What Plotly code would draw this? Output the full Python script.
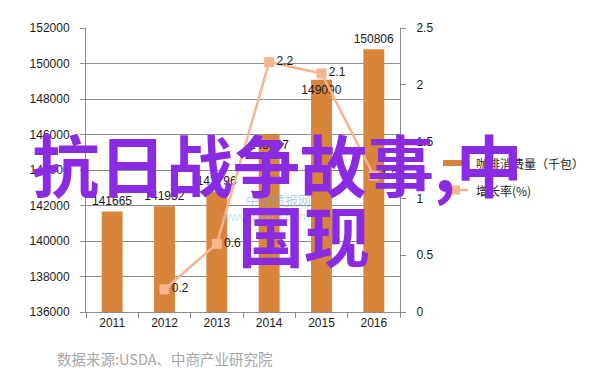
import plotly.graph_objects as go

years = ["2011", "2012", "2013", "2014", "2015", "2016"]
consumption = [141665, 141952, 142796, 145997, 149090, 150806]
growth_years = ["2012", "2013", "2014", "2015", "2016"]
growth = [0.2, 0.6, 2.2, 2.1, 1.2]

name_consumption = "咖啡消费量（千包）"
name_growth = "增长率(%)"
source_text = "数据来源:USDA、中商产业研究院"
overlay_line1 = "抗日战争故事,中"
overlay_line2 = "国现"

W, H = 602, 384
OFF = 8  # default page body margin
L, R, T, B = 86, 400, 28, 312


def px(x):
    return (x - L) / (R - L)


def py(y):
    return (B - y) / (B - T)


BAR = "#D9843B"
LINE = "#F5B58E"
GRID = "#8c8c8c"
TXT = "#1a1a1a"
FONT = "Liberation Sans, Noto Sans CJK SC, sans-serif"

# labels of 2014 and 2015 sit just inside the bar tops (as in the reference)
label_pos = ["outside", "outside", "outside", "inside", "inside", "outside"]

fig = go.Figure()
fig.add_trace(go.Bar(
    x=years, y=consumption, name=name_consumption,
    marker=dict(color=BAR, line=dict(width=0)),
    text=[str(v) for v in consumption], textposition=label_pos,
    insidetextanchor="end", constraintext="none", textangle=0,
    textfont=dict(size=12, color=TXT, family=FONT),
    insidetextfont=dict(size=12, color=TXT, family=FONT),
    outsidetextfont=dict(size=12, color=TXT, family=FONT),
    cliponaxis=False, showlegend=False,
))
fig.add_trace(go.Scatter(
    x=growth_years, y=growth, yaxis="y2", name=name_growth,
    mode="lines+markers+text",
    line=dict(color=LINE, width=2.5),
    marker=dict(symbol="square", size=10, color=LINE),
    text=[str(v) for v in growth], textposition="middle right",
    textfont=dict(size=12, color=TXT, family=FONT),
    cliponaxis=False, showlegend=False,
))

fig.update_layout(
    width=W - OFF, height=H - OFF,
    margin=dict(l=L - OFF, r=W - R, t=T - OFF, b=H - B, pad=0,
                autoexpand=False),
    paper_bgcolor="white", plot_bgcolor="white",
    bargap=0.6,
    showlegend=False,
    font=dict(family=FONT, size=12, color=TXT),
    xaxis=dict(
        type="category", showgrid=False, showline=True, linecolor=GRID,
        linewidth=1, ticks="outside", tickson="boundaries", ticklen=5,
        tickcolor=GRID, tickfont=dict(size=12, color=TXT), automargin=False,
    ),
    yaxis=dict(
        range=[136000, 152000], dtick=2000, tickformat="d",
        showgrid=True, gridcolor=GRID,
        gridwidth=1, showline=True, linecolor=GRID, ticks="outside",
        ticklen=5, tickcolor=GRID, tickfont=dict(size=12, color=TXT),
        zeroline=False, ticklabelstandoff=8, automargin=False,
    ),
    yaxis2=dict(
        range=[0, 2.5], dtick=0.5, overlaying="y", side="right",
        showgrid=False, showline=True, linecolor=GRID, ticks="outside",
        ticklen=5, tickcolor=GRID, tickfont=dict(size=12, color=TXT),
        zeroline=False, ticklabelstandoff=8, automargin=False,
    ),
)

# manual legend (line-style symbols as in the reference)
shapes = [
    dict(type="line", xref="paper", yref="paper",
         x0=px(443), x1=px(468), y0=py(163), y1=py(163),
         line=dict(color=BAR, width=6)),
    dict(type="line", xref="paper", yref="paper",
         x0=px(443), x1=px(468), y0=py(190), y1=py(190),
         line=dict(color=LINE, width=2.5)),
    dict(type="rect", xref="paper", yref="paper",
         x0=px(451), x1=px(460), y0=py(185.5), y1=py(194.5),
         line=dict(width=0), fillcolor=LINE),
]

annotations = [
    # faint watermark
    dict(text="中商情报网", x=px(313), y=py(199), showarrow=False,
         font=dict(size=13, color="rgba(110,170,210,0.55)",
                   family="Noto Sans CJK SC")),
    dict(text="www.askci.com", x=px(312), y=py(216), showarrow=False,
         font=dict(size=13, color="rgba(150,190,220,0.5)",
                   family="Liberation Sans")),
    # legend texts
    dict(text=name_consumption, x=px(474), y=py(163), xanchor="left",
         yanchor="middle", showarrow=False,
         font=dict(size=12, color=TXT, family="Noto Sans CJK SC")),
    dict(text=name_growth, x=px(474), y=py(190), xanchor="left",
         yanchor="middle", showarrow=False,
         font=dict(size=12, color=TXT, family="Noto Sans CJK SC")),
    # source
    dict(text=source_text, x=px(55), y=py(358), xanchor="left",
         yanchor="middle", showarrow=False,
         font=dict(size=14.5, color="#a6a6a6", family="Noto Sans CJK SC")),
    # big overlay text
    dict(text="<b>" + overlay_line1 + "</b>", x=px(30), y=py(162),
         xanchor="left", yanchor="middle", showarrow=False,
         font=dict(size=67, color="#8A2BE2", family="Noto Sans CJK SC")),
    dict(text="<b>" + overlay_line2 + "</b>", x=px(304), y=py(233),
         xanchor="center", yanchor="middle", showarrow=False,
         font=dict(size=66, color="#8A2BE2", family="Noto Sans CJK SC")),
]
for a in annotations:
    a.setdefault("xref", "paper")
    a.setdefault("yref", "paper")
fig.update_layout(annotations=annotations, shapes=shapes)

fig.write_html("out.html")
